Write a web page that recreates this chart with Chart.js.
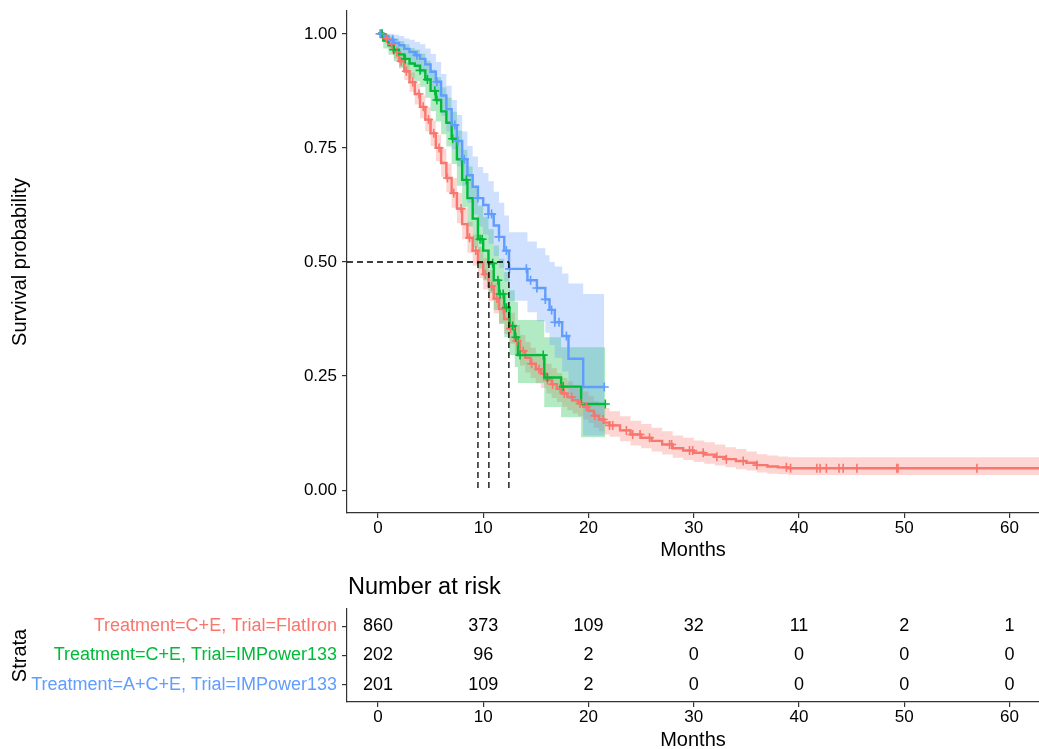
<!DOCTYPE html>
<html>
<head>
<meta charset="utf-8">
<script src="https://cdn.jsdelivr.net/npm/chart.js@4.4.1/dist/chart.umd.min.js"></script>
<style>
  html, body { margin: 0; padding: 0; background: #fff; overflow: hidden; }
  #survivalChart { position: absolute; left: 0; top: 0; }
  #riskChart { position: absolute; left: 0; top: 570px; }
</style>
</head>
<body>
<canvas id="survivalChart" width="1039" height="570"></canvas>
<canvas id="riskChart" width="1039" height="182"></canvas>
<script>
// strata and axis labels
var strataLabels = ['Treatment=C+E, Trial=FlatIron', 'Treatment=C+E, Trial=IMPower133', 'Treatment=A+C+E, Trial=IMPower133'];
var strataColors = ['#F8766D', '#00BA38', '#619CFF'];
var bandColors = ['rgba(248,118,109,0.3)', 'rgba(0,186,56,0.3)', 'rgba(97,156,255,0.3)'];

var xTicks = [0, 10, 20, 30, 40, 50, 60];
var yTicks = [0, 0.25, 0.5, 0.75, 1];
var yTickLabels = ['0.00', '0.25', '0.50', '0.75', '1.00'];

// Treatment=C+E, Trial=FlatIron
var flatTimes = [0, 0.5, 1, 1.5, 2, 2.5, 3, 3.5, 4, 4.5, 5, 5.5, 6, 6.5, 7, 7.5, 8, 8.5, 9, 9.5, 10, 10.5, 11, 11.5, 12, 12.5, 13, 13.5, 14, 14.5, 15, 15.5, 16, 16.5, 17, 17.5, 18, 18.5, 19, 19.5, 20, 20.5, 21, 21.5, 22, 23, 24, 25, 26, 27, 28, 29, 30, 31, 32, 33, 34, 35, 36, 37, 38, 39, 62.8];
var flatSurv = [1, 0.99, 0.977, 0.96, 0.94, 0.918, 0.894, 0.868, 0.84, 0.812, 0.782, 0.75, 0.717, 0.684, 0.651, 0.617, 0.583, 0.553, 0.525, 0.498, 0.473, 0.447, 0.42, 0.397, 0.375, 0.354, 0.327, 0.305, 0.29, 0.277, 0.265, 0.255, 0.242, 0.232, 0.222, 0.212, 0.204, 0.197, 0.19, 0.183, 0.174, 0.163, 0.155, 0.148, 0.142, 0.131, 0.122, 0.115, 0.108, 0.1, 0.092, 0.087, 0.082, 0.078, 0.073, 0.068, 0.064, 0.06, 0.055, 0.052, 0.05, 0.048, 0.048];
var flatLower = [1, 0.983, 0.966, 0.946, 0.924, 0.899, 0.873, 0.845, 0.815, 0.786, 0.754, 0.721, 0.687, 0.653, 0.619, 0.585, 0.55, 0.52, 0.492, 0.465, 0.44, 0.414, 0.387, 0.364, 0.342, 0.321, 0.295, 0.273, 0.258, 0.246, 0.234, 0.224, 0.212, 0.202, 0.193, 0.183, 0.175, 0.168, 0.162, 0.155, 0.147, 0.137, 0.129, 0.122, 0.117, 0.107, 0.098, 0.092, 0.085, 0.078, 0.071, 0.066, 0.062, 0.058, 0.054, 0.05, 0.046, 0.043, 0.039, 0.036, 0.035, 0.033, 0.033];
var flatUpper = [1, 0.997, 0.988, 0.974, 0.956, 0.937, 0.915, 0.891, 0.865, 0.839, 0.81, 0.779, 0.748, 0.716, 0.684, 0.651, 0.617, 0.588, 0.56, 0.533, 0.508, 0.482, 0.455, 0.432, 0.41, 0.389, 0.362, 0.34, 0.325, 0.312, 0.3, 0.29, 0.277, 0.267, 0.256, 0.246, 0.238, 0.23, 0.223, 0.216, 0.207, 0.195, 0.187, 0.18, 0.173, 0.162, 0.152, 0.145, 0.137, 0.129, 0.12, 0.115, 0.109, 0.105, 0.1, 0.094, 0.09, 0.085, 0.079, 0.076, 0.074, 0.072, 0.072];
var flatCensor = [0.3, 0.8, 1.3, 1.8, 2.2, 2.7, 3.3, 3.9, 4.3, 4.8, 5.3, 5.8, 6.6, 7.2, 7.9, 8.7, 9.3, 10.2, 10.8, 11.3, 11.9, 12.6, 13.2, 13.8, 14.6, 15.3, 16.1, 16.6, 17.3, 17.7, 18.4, 19.2, 19.8, 20.6, 21.4, 22, 22.3, 23.6, 24.2, 24.9, 25.8, 27.7, 27.9, 29.6, 29.9, 30.9, 32.2, 33.1, 34.7, 36, 38.8, 39.2, 41.7, 42, 42.6, 43.8, 44.2, 45.5, 49.3, 49.4, 56.9];

// Treatment=C+E, Trial=IMPower133
var ceTimes = [0, 0.5, 1, 1.5, 2, 2.5, 3, 3.5, 4, 4.5, 5, 5.5, 6, 6.5, 7, 7.5, 8, 8.5, 9, 9.5, 10, 10.5, 11, 11.5, 12, 12.5, 13, 13.3, 15.8, 17.4, 19.3, 21.6];
var ceSurv = [1, 0.985, 0.975, 0.965, 0.955, 0.945, 0.935, 0.93, 0.92, 0.9, 0.875, 0.855, 0.83, 0.805, 0.77, 0.725, 0.68, 0.64, 0.595, 0.55, 0.525, 0.497, 0.46, 0.43, 0.4, 0.36, 0.335, 0.296, 0.247, 0.227, 0.189, 0.189];
var ceLower = [1, 0.968, 0.954, 0.94, 0.927, 0.914, 0.902, 0.896, 0.884, 0.86, 0.831, 0.808, 0.78, 0.753, 0.715, 0.667, 0.62, 0.578, 0.532, 0.486, 0.46, 0.432, 0.395, 0.365, 0.335, 0.296, 0.27, 0.235, 0.182, 0.16, 0.116, 0.116];
var ceUpper = [1, 1, 0.996, 0.99, 0.984, 0.977, 0.969, 0.965, 0.957, 0.941, 0.921, 0.905, 0.883, 0.86, 0.829, 0.788, 0.746, 0.709, 0.666, 0.623, 0.599, 0.572, 0.536, 0.507, 0.478, 0.438, 0.413, 0.373, 0.335, 0.313, 0.313, 0.313];
var ceCensor = [0.4, 1.5, 2.6, 4.0, 4.7, 5.4, 5.6, 7.1, 8.4, 9.7, 9.9, 10.9, 11.4, 11.6, 11.9, 12.2, 12.8, 13.1, 13.5, 15.7, 16.1, 17.6, 21.6];

// Treatment=A+C+E, Trial=IMPower133
var aceTimes = [0, 0.5, 1, 1.5, 2, 2.5, 3, 3.5, 4, 4.5, 5, 5.5, 6, 6.5, 7, 7.5, 8, 8.5, 9, 9.5, 10, 10.5, 11, 11.5, 12, 12.45, 14.2, 15.1, 15.9, 16.3, 16.8, 17.5, 18.1, 19.5, 21.5];
var aceSurv = [1, 0.995, 0.987, 0.98, 0.975, 0.967, 0.96, 0.953, 0.945, 0.933, 0.917, 0.895, 0.865, 0.835, 0.8, 0.765, 0.725, 0.69, 0.665, 0.64, 0.625, 0.605, 0.58, 0.555, 0.525, 0.485, 0.46, 0.443, 0.418, 0.395, 0.368, 0.338, 0.288, 0.226, 0.226];
var aceLower = [1, 0.985, 0.972, 0.962, 0.953, 0.943, 0.933, 0.924, 0.913, 0.898, 0.879, 0.853, 0.82, 0.786, 0.747, 0.71, 0.667, 0.63, 0.604, 0.578, 0.56, 0.54, 0.513, 0.487, 0.457, 0.415, 0.39, 0.37, 0.345, 0.318, 0.29, 0.26, 0.2, 0.12, 0.12];
var aceUpper = [1, 1, 1, 0.998, 0.995, 0.99, 0.987, 0.982, 0.977, 0.968, 0.956, 0.938, 0.912, 0.886, 0.855, 0.822, 0.786, 0.754, 0.731, 0.708, 0.695, 0.677, 0.654, 0.63, 0.602, 0.565, 0.545, 0.53, 0.515, 0.5, 0.49, 0.475, 0.453, 0.43, 0.43];
var aceCensor = [0.2, 1.4, 3.7, 5.6, 7.3, 7.6, 8.2, 9.5, 10.5, 10.8, 11.5, 12.2, 12.5, 14.1, 14.5, 15.1, 15.9, 16.5, 16.8, 17.2, 17.9, 21.5];

var medianMonths = [9.5, 10.54, 12.44];

// number at risk table
var riskTimes = [0, 10, 20, 30, 40, 50, 60];
var riskFlat = [860, 373, 109, 32, 11, 2, 1];
var riskCE = [202, 96, 2, 0, 0, 0, 0];
var riskACE = [201, 109, 2, 0, 0, 0, 0];

var xMin = -2.94, xMax = 62.8;
var fontFamily = '"Liberation Sans", Arial, sans-serif';
Chart.defaults.font.family = fontFamily;
Chart.defaults.color = '#000';

function toPoints(times, vals) {
    return times.map(function (t, i) { return { x: t, y: vals[i] }; });
}

// value of the step curve at time t
function survAt(times, surv, t) {
    var s = surv[0];
    for (var i = 0; i < times.length; i++) {
        if (times[i] <= t) s = surv[i];
    }
    return s;
}

var groups = [
    { times: flatTimes, surv: flatSurv, lower: flatLower, upper: flatUpper, censor: flatCensor },
    { times: ceTimes, surv: ceSurv, lower: ceLower, upper: ceUpper, censor: ceCensor },
    { times: aceTimes, surv: aceSurv, lower: aceLower, upper: aceUpper, censor: aceCensor }
];

var datasets = [];
var dash = { borderColor: '#000', borderWidth: 1.3, borderDash: [6, 4], pointRadius: 0, fill: false };

// median lines (drawn on top)
datasets.push(Object.assign({ data: [{ x: xMin, y: 0.5 }, { x: Math.max.apply(null, medianMonths), y: 0.5 }] }, dash));
medianMonths.forEach(function (m) {
    datasets.push(Object.assign({ data: [{ x: m, y: 0.5 }, { x: m, y: 0 }] }, dash));
});

// censor marks, blue on top
[2, 1, 0].forEach(function (g) {
    var grp = groups[g];
    datasets.push({
        data: grp.censor.map(function (t) { return { x: t, y: survAt(grp.times, grp.surv, t) }; }),
        showLine: false,
        pointStyle: 'cross',
        pointRadius: 4.5,
        pointBorderWidth: 1.6,
        pointBorderColor: strataColors[g],
        borderColor: strataColors[g]
    });
});

// survival curves
[2, 1, 0].forEach(function (g) {
    var grp = groups[g];
    datasets.push({
        data: toPoints(grp.times, grp.surv),
        stepped: true,
        borderColor: strataColors[g],
        borderWidth: 2.4,
        pointRadius: 0,
        fill: false
    });
});

// confidence bands
[2, 1, 0].forEach(function (g) {
    var grp = groups[g];
    datasets.push({
        data: toPoints(grp.times, grp.upper),
        stepped: true,
        borderColor: 'transparent',
        borderWidth: 0,
        pointRadius: 0,
        backgroundColor: bandColors[g],
        fill: '+1'
    });
    datasets.push({
        data: toPoints(grp.times, grp.lower),
        stepped: true,
        borderColor: 'transparent',
        borderWidth: 0,
        pointRadius: 0,
        fill: false
    });
});

function xAxis(height, titleBottom) {
    return {
        type: 'linear',
        min: xMin,
        max: xMax,
        afterBuildTicks: function (s) { s.ticks = xTicks.map(function (v) { return { value: v }; }); },
        afterFit: function (s) { s.height = height; s.paddingLeft = 0; s.paddingRight = 0; },
        ticks: { font: { size: 17 }, color: '#000', padding: 0, maxRotation: 0 },
        grid: { display: true, drawOnChartArea: false, drawTicks: true, tickLength: 5, color: '#333', lineWidth: 1.2 },
        border: { display: true, color: '#333', width: 1.2 },
        title: { display: true, text: 'Months', font: { size: 20 }, color: '#000', padding: { top: 0, bottom: titleBottom } }
    };
}

new Chart(document.getElementById('survivalChart').getContext('2d'), {
    type: 'line',
    data: { datasets: datasets },
    options: {
        responsive: false,
        animation: false,
        events: [],
        layout: { autoPadding: false, padding: { top: 11, left: 0, right: 0, bottom: 0 } },
        plugins: { legend: { display: false }, tooltip: { enabled: false } },
        scales: {
            x: xAxis(57, 8),
            y: {
                type: 'linear',
                min: -0.05,
                max: 1.05,
                afterBuildTicks: function (s) { s.ticks = yTicks.map(function (v) { return { value: v }; }); },
                afterFit: function (s) { s.width = 347; s.paddingTop = 0; s.paddingBottom = 0; },
                ticks: {
                    font: { size: 17 }, color: '#000', padding: 5,
                    callback: function (v, i) { return yTickLabels[i]; }
                },
                grid: { display: true, drawOnChartArea: false, drawTicks: true, tickLength: 5, color: '#333', lineWidth: 1.2 },
                border: { display: true, color: '#333', width: 1.2 },
                title: { display: true, text: 'Survival probability', font: { size: 20 }, color: '#000', padding: { top: 8, bottom: 0 } }
            }
        }
    }
});

// risk table
var riskCounts = [riskFlat, riskCE, riskACE];
var riskRows = strataLabels.map(function (s, i) { return i + 1; });

var riskTextPlugin = {
    id: 'riskText',
    afterDatasetsDraw: function (chart) {
        var ctx = chart.ctx;
        ctx.save();
        ctx.fillStyle = '#000';
        ctx.font = '18px ' + fontFamily;
        ctx.textAlign = 'center';
        ctx.textBaseline = 'middle';
        riskCounts.forEach(function (counts, i) {
            chart.getDatasetMeta(i).data.forEach(function (pt, j) {
                ctx.fillText(String(counts[j]), pt.x, pt.y);
            });
        });
        ctx.font = '23.5px ' + fontFamily;
        ctx.textAlign = 'left';
        ctx.fillText('Number at risk', chart.chartArea.left + 1, 18);
        ctx.restore();
    }
};

new Chart(document.getElementById('riskChart').getContext('2d'), {
    type: 'line',
    data: {
        datasets: riskCounts.map(function (counts, i) {
            return {
                data: riskTimes.map(function (t) { return { x: t, y: riskRows[i] }; }),
                showLine: false,
                pointRadius: 0
            };
        })
    },
    options: {
        responsive: false,
        animation: false,
        events: [],
        layout: { autoPadding: false, padding: { top: 39, left: 0, right: 0, bottom: 0 } },
        plugins: { legend: { display: false }, tooltip: { enabled: false } },
        scales: {
            x: xAxis(50, 0),
            y: {
                type: 'linear',
                reverse: true,
                min: 0.4,
                max: 3.6,
                afterBuildTicks: function (s) { s.ticks = riskRows.map(function (v) { return { value: v }; }); },
                afterFit: function (s) { s.width = 347; s.paddingTop = 0; s.paddingBottom = 0; },
                ticks: {
                    font: { size: 18 }, padding: 5,
                    color: function (c) { return strataColors[c.index]; },
                    callback: function (v, i) { return strataLabels[i]; }
                },
                grid: { display: true, drawOnChartArea: false, drawTicks: true, tickLength: 5, color: '#333', lineWidth: 1.2 },
                border: { display: true, color: '#333', width: 1.2 },
                title: { display: true, text: 'Strata', font: { size: 20 }, color: '#000', padding: { top: 8, bottom: 0 } }
            }
        }
    },
    plugins: [riskTextPlugin]
});
</script>
</body>
</html>
